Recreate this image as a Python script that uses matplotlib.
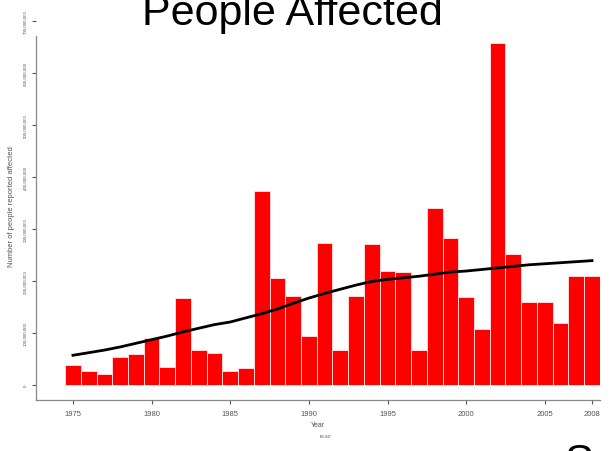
import numpy as np
import matplotlib
matplotlib.use("Agg")
import matplotlib.pyplot as plt
import matplotlib.ticker as ticker

plt.rcParams['font.family'] = ['Liberation Sans', 'DejaVu Sans']

# -------------------------------------------------
# Data (millions of people reported affected)
# -------------------------------------------------

YEARS = list(range(1975, 2009))

AFFECTED_M = [
    38, 27, 21, 53, 60, 90, 34, 167, 67, 62,
    26, 32, 372, 205, 171, 94, 273, 67, 171, 271,
    220, 218, 67, 340, 282, 169, 108, 658, 252, 160,
    159, 119, 209, 209
]

TREND_M = [
    57, 62, 67, 73, 80, 87, 94, 102, 109, 116,
    121, 129, 137, 146, 157, 167, 176, 184, 192, 199,
    203, 206, 209, 213, 217, 219, 222, 225, 228, 231,
    233, 235, 237, 239
]

Y_TICKS = [0, 100e6, 200e6, 300e6, 400e6, 500e6, 600e6, 700e6]
X_TICKS = [1975, 1980, 1985, 1990, 1995, 2000, 2005, 2008]

GREY = "#555555"


def main():

    fig = plt.figure(figsize=(6.09, 4.52), dpi=100)
    ax = fig.add_axes([0.0591, 0.1128, 0.9259, 0.8618])

    values = np.array(AFFECTED_M) * 1e6
    trend = np.array(TREND_M) * 1e6

    ax.bar(YEARS, values, width=1.0, color="#ff0000",
           edgecolor="#ffd8d8", linewidth=0.7, zorder=2)

    ax.plot(YEARS, trend, color="black", lw=2.0, zorder=3)

    ax.set_xlim(1972.65, 2008.5)
    ax.set_ylim(-29e6, 720e6)

    ax.spines["top"].set_visible(False)
    ax.spines["right"].set_visible(False)
    for side in ["left", "bottom"]:
        ax.spines[side].set_color("#888888")
        ax.spines[side].set_linewidth(0.9)
    ax.spines["left"].set_bounds(-29e6, 671e6)

    ax.set_xticks(X_TICKS)
    ax.set_yticks(Y_TICKS)
    ax.yaxis.set_major_formatter(
        ticker.FuncFormatter(lambda v, p: f"{int(v):,}"))

    ax.tick_params(axis="x", length=3, width=0.8, color=GREY,
                   labelsize=5.5, labelcolor=GREY, pad=4)
    ax.tick_params(axis="y", length=3, width=0.8, color=GREY,
                   labelsize=3.2, labelcolor=GREY, pad=3)
    for lab in ax.get_yticklabels():
        lab.set_rotation(90)
        lab.set_va("center")

    ax.set_xlabel("Year", fontsize=5, color=GREY, labelpad=3)
    ax.set_ylabel("Number of people reported affected", fontsize=5.5,
                  color=GREY, labelpad=6)

    # slide title (clipped at the top edge, as in the source slide)
    fig.text(0.480, 0.9447, "People Affected", fontsize=31,
             ha="center", va="baseline")
    fig.text(0.534, 0.033, "EB-047", fontsize=2.5, color="#444444",
             ha="center", va="center")
    fig.text(0.949, -0.0487, "S", fontsize=31, ha="center", va="baseline")

    fig.savefig("out.png", dpi=100)
    plt.close(fig)


if __name__ == "__main__":
    main()
